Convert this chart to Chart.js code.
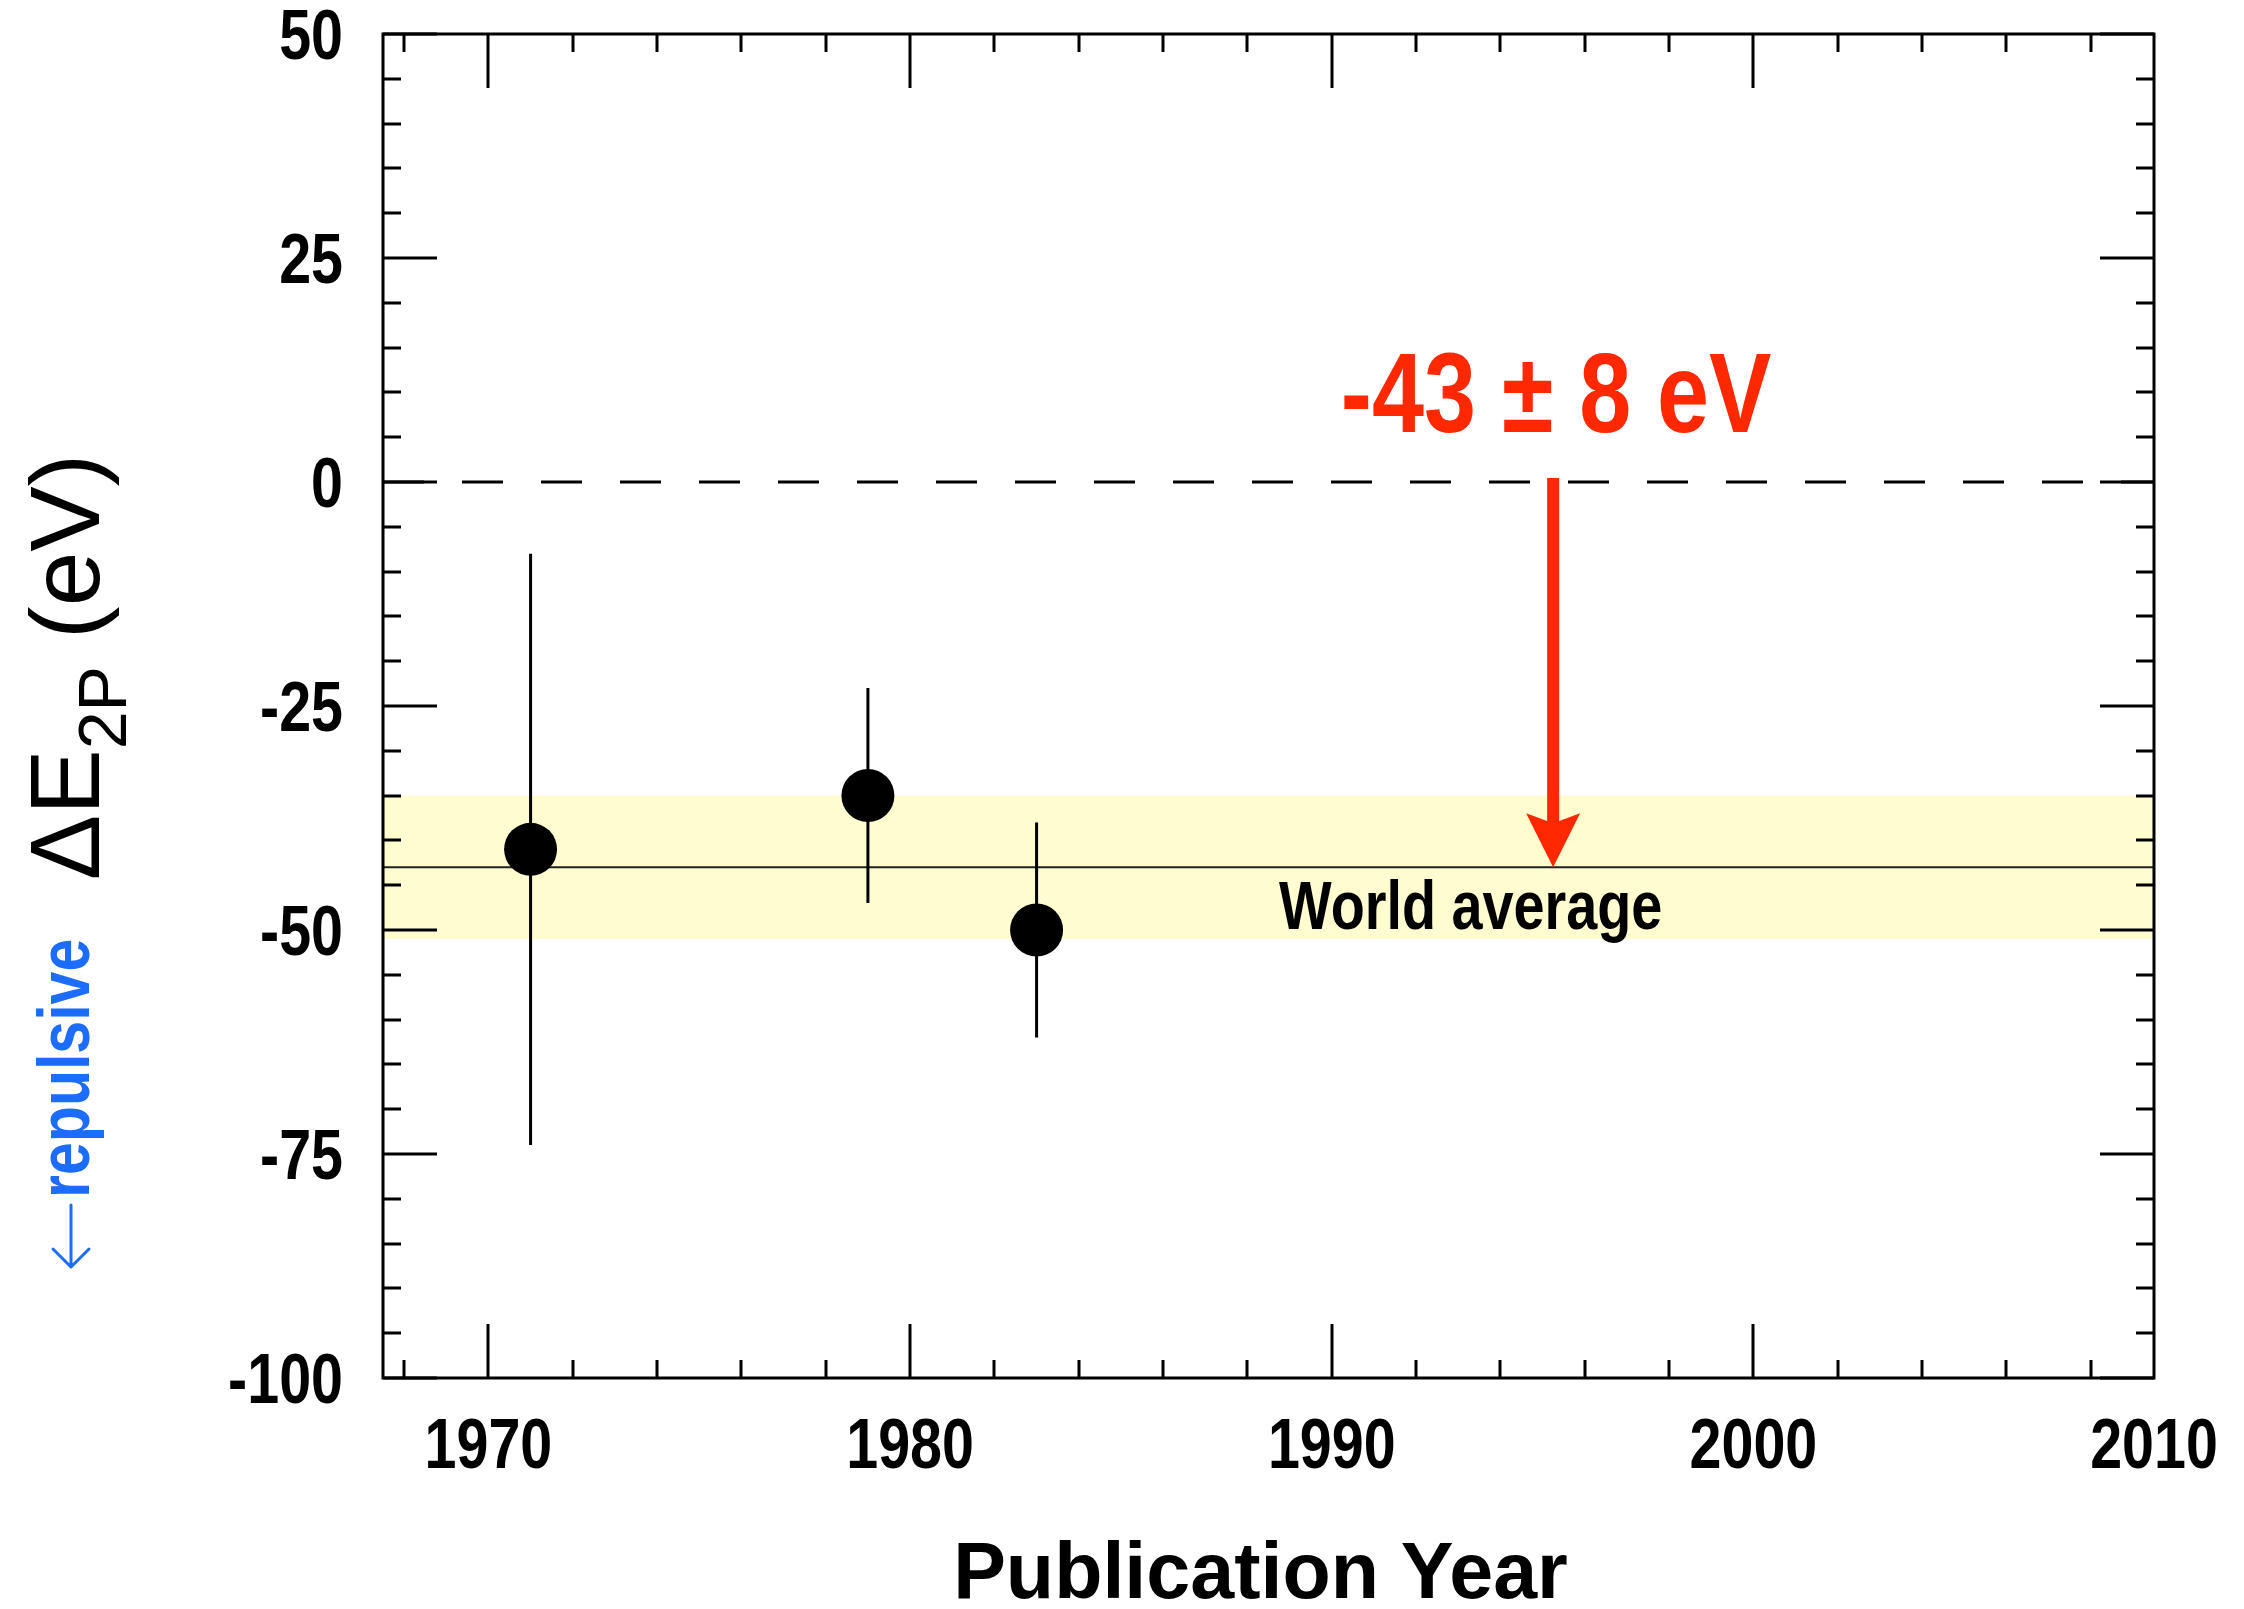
<!DOCTYPE html>
<html>
<head>
<meta charset="utf-8">
<script src="https://cdn.jsdelivr.net/npm/chart.js@4.4.1/dist/chart.umd.min.js"></script>
<style>
  html, body { margin: 0; padding: 0; background: #ffffff; }
  #wrap { width: 2244px; height: 1609px; }
</style>
</head>
<body>
<div id="wrap"><canvas id="c" width="2244" height="1609"></canvas></div>
<script>
// Measurements of the 2p level shift, by publication year
const years  = [1971, 1979, 1983];
const shifts = [-41, -35, -50];   // eV
const errors = [33, 12, 12];      // eV, symmetric

// World average and its uncertainty
const worldAverage = -43;
const worldError = 8;
const arrowYear = 1995.25;
const averageLabelYear = 1988.75;

// Axis ranges and labels
const xRange = [1967.5, 2009.5];
const yRange = [-100, 50];
const xTickLabels = ['1970', '1980', '1990', '2000', '2010'];
const yTickLabels = ['50', '25', '0', '-25', '-50', '-75', '-100'];
const xMinorStep = 2;
const yMinorStep = 5;

const FONT = '"Liberation Sans", Arial, Helvetica, sans-serif';
const NARROW = 0.82;
const RED = 'rgb(255,40,0)';
const BLUE = 'rgb(27,108,255)';
const BAND = 'rgb(255,252,208)';

function drawText(ctx, text, x, y, opts) {
  ctx.save();
  ctx.font = opts.font;
  ctx.fillStyle = opts.color || '#000';
  ctx.textAlign = opts.align || 'left';
  ctx.textBaseline = 'alphabetic';
  ctx.translate(x, y);
  if (opts.rotate) ctx.rotate(opts.rotate);
  ctx.scale(opts.squeeze || 1, 1);
  ctx.fillText(text, 0, 0);
  ctx.restore();
}

// Vertical error bars drawn from the measurement dataset
const errorBars = {
  id: 'errorBars',
  afterDatasetsDraw(chart) {
    const { ctx, scales: { x, y } } = chart;
    ctx.save();
    ctx.strokeStyle = '#000';
    ctx.lineWidth = 3;
    ctx.beginPath();
    years.forEach((yr, i) => {
      const px = x.getPixelForValue(yr);
      ctx.moveTo(px, y.getPixelForValue(shifts[i] + errors[i]));
      ctx.lineTo(px, y.getPixelForValue(shifts[i] - errors[i]));
    });
    ctx.stroke();
    ctx.restore();
  }
};

// Red arrow from zero down to the world average, with its value
const averageArrow = {
  id: 'averageArrow',
  afterDatasetsDraw(chart) {
    const { ctx, scales: { x, y } } = chart;
    const px = x.getPixelForValue(arrowYear);
    const top = y.getPixelForValue(0) - 4;
    const tip = y.getPixelForValue(worldAverage);
    const headLen = 54, headHalf = 27, notch = 10, shaft = 6;
    ctx.save();
    ctx.fillStyle = RED;
    ctx.fillRect(px - shaft, top, shaft * 2, tip - headLen + notch - top);
    ctx.beginPath();
    ctx.moveTo(px, tip);
    ctx.lineTo(px - headHalf, tip - headLen);
    ctx.lineTo(px, tip - headLen + notch);
    ctx.lineTo(px + headHalf, tip - headLen);
    ctx.closePath();
    ctx.fill();
    ctx.restore();
    drawText(ctx, `${worldAverage} \u00b1 ${worldError} eV`, px + 3, y.getPixelForValue(0) - 50,
      { font: `bold 114px ${FONT}`, color: RED, align: 'center', squeeze: NARROW });
    drawText(ctx, 'World average', x.getPixelForValue(averageLabelYear), y.getPixelForValue(worldAverage) + 62,
      { font: `bold 68px ${FONT}`, align: 'left', squeeze: NARROW });
  }
};

// Frame with inward ticks on all four sides, tick labels and axis titles
const frameAndAxes = {
  id: 'frameAndAxes',
  afterDraw(chart) {
    const { ctx, chartArea: a, scales: { x, y } } = chart;
    ctx.save();
    ctx.strokeStyle = '#000';
    ctx.lineWidth = 3;
    ctx.beginPath();
    const xMajors = xTickLabels.map(Number);
    for (let v = Math.ceil(xRange[0] / xMinorStep) * xMinorStep; v <= xRange[1]; v += xMinorStep) {
      const px = Math.round(x.getPixelForValue(v));
      const len = xMajors.includes(v) ? 54 : 18;
      ctx.moveTo(px, a.bottom); ctx.lineTo(px, a.bottom - len);
      ctx.moveTo(px, a.top); ctx.lineTo(px, a.top + len);
    }
    const yMajors = yTickLabels.map(Number);
    for (let v = yRange[0]; v <= yRange[1]; v += yMinorStep) {
      const py = Math.round(y.getPixelForValue(v));
      const len = yMajors.includes(v) ? 54 : 18;
      ctx.moveTo(a.left, py); ctx.lineTo(a.left + len, py);
      ctx.moveTo(a.right, py); ctx.lineTo(a.right - len, py);
    }
    ctx.stroke();
    ctx.strokeRect(a.left, a.top, a.right - a.left, a.bottom - a.top);
    ctx.restore();

    const tickFont = `bold 70px ${FONT}`;
    yTickLabels.forEach(lbl => {
      const py = y.getPixelForValue(Number(lbl));
      drawText(ctx, lbl, a.left - 40, py + 25, { font: tickFont, align: 'right', squeeze: NARROW });
    });
    xTickLabels.forEach(lbl => {
      const px = Math.min(x.getPixelForValue(Number(lbl)), a.right);
      drawText(ctx, lbl, px, a.bottom + 90, { font: tickFont, align: 'center', squeeze: NARROW });
    });

    // x-axis title
    drawText(ctx, 'Publication Year', (a.left + a.right) / 2 - 8, a.bottom + 220,
      { font: `bold 79px ${FONT}`, align: 'center' });

    // y-axis title: ΔE with subscript 2P, rotated
    ctx.save();
    const mainFont = `98px ${FONT}`, subFont = `68px ${FONT}`;
    ctx.font = mainFont; const w1 = ctx.measureText('\u0394E').width; const w3 = ctx.measureText(' (eV)').width;
    ctx.font = subFont; const w2 = ctx.measureText('2P').width;
    const total = w1 + w2 + w3;
    ctx.translate(99, 667);
    ctx.rotate(-Math.PI / 2);
    ctx.fillStyle = '#000';
    ctx.textAlign = 'left';
    ctx.textBaseline = 'alphabetic';
    let cx = -total / 2;
    ctx.font = mainFont; ctx.fillText('\u0394E', cx, 0); cx += w1;
    ctx.font = subFont; ctx.fillText('2P', cx, 27); cx += w2;
    ctx.font = mainFont; ctx.fillText(' (eV)', cx, 0);
    ctx.restore();

    // direction hint below the title: a thin downward arrow, then the word
    ctx.save();
    ctx.strokeStyle = BLUE;
    ctx.lineWidth = 3;
    ctx.lineCap = 'round';
    ctx.lineJoin = 'round';
    ctx.beginPath();
    ctx.moveTo(71, 1205); ctx.lineTo(71, 1267);
    ctx.moveTo(53, 1249); ctx.lineTo(71, 1267); ctx.lineTo(89, 1249);
    ctx.stroke();
    ctx.restore();
    drawText(ctx, 'repulsive', 89, 1198,
      { font: `bold 72px ${FONT}`, color: BLUE, align: 'left', squeeze: NARROW, rotate: -Math.PI / 2 });
  }
};

const line = (yv) => [{ x: xRange[0], y: yv }, { x: xRange[1], y: yv }];

new Chart(document.getElementById('c'), {
  type: 'scatter',
  data: {
    datasets: [
      {
        label: 'Measurements',
        data: years.map((yr, i) => ({ x: yr, y: shifts[i] })),
        pointRadius: 26.5,
        pointBackgroundColor: '#000',
        pointBorderWidth: 0,
        showLine: false,
        order: 0
      },
      {
        label: 'Zero',
        data: line(0),
        showLine: true,
        borderColor: '#000',
        borderWidth: 3,
        borderDash: [41, 38],
        pointRadius: 0,
        order: 1
      },
      {
        label: 'World average',
        data: line(worldAverage),
        showLine: true,
        borderColor: '#222',
        borderWidth: 2,
        pointRadius: 0,
        order: 2
      },
      {
        label: 'Upper',
        data: line(worldAverage + worldError),
        showLine: true,
        borderWidth: 0,
        borderColor: 'rgba(0,0,0,0)',
        backgroundColor: BAND,
        fill: '+1',
        pointRadius: 0,
        order: 3
      },
      {
        label: 'Lower',
        data: line(worldAverage - worldError),
        showLine: true,
        borderWidth: 0,
        borderColor: 'rgba(0,0,0,0)',
        pointRadius: 0,
        order: 4
      }
    ]
  },
  options: {
    responsive: false,
    animation: false,
    devicePixelRatio: 1,
    layout: { padding: { left: 383, right: 90, top: 34, bottom: 231 } },
    scales: {
      x: { type: 'linear', min: xRange[0], max: xRange[1], display: false },
      y: { type: 'linear', min: yRange[0], max: yRange[1], display: false }
    },
    plugins: {
      legend: { display: false },
      tooltip: { enabled: false },
      filler: { propagate: false }
    }
  },
  plugins: [errorBars, averageArrow, frameAndAxes]
});
</script>
</body>
</html>
